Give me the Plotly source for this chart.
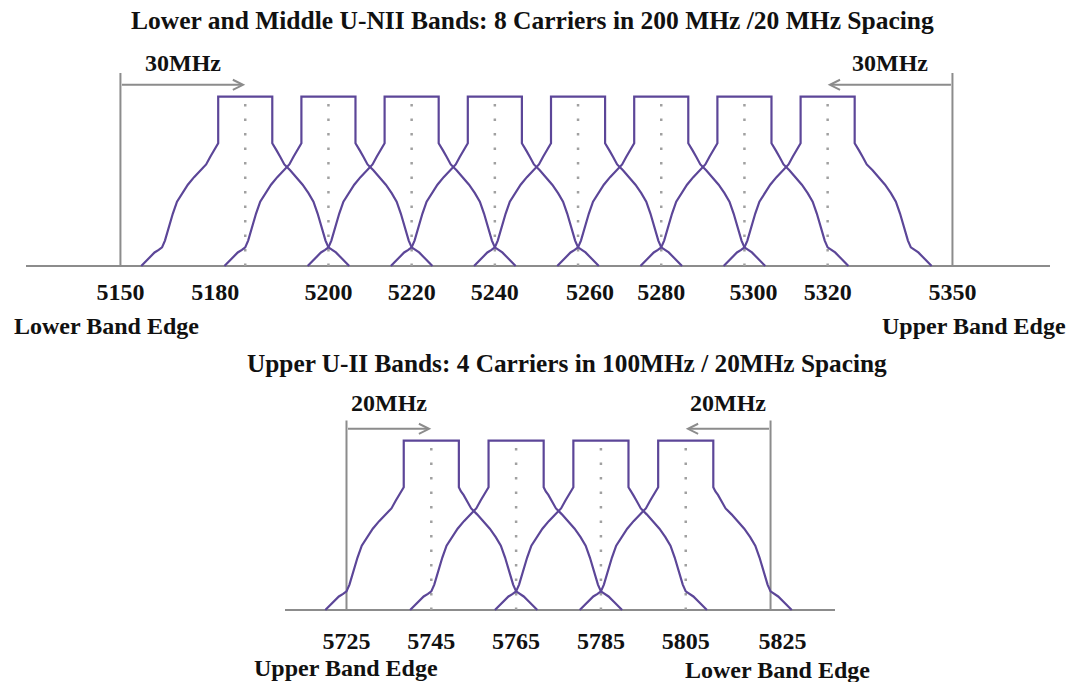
import plotly.graph_objects as go

# ---------------- data ----------------
TOP_TITLE = "Lower and Middle U-NII Bands: 8 Carriers in 200 MHz /20 MHz Spacing"
BOTTOM_TITLE = "Upper U-II Bands: 4 Carriers in 100MHz / 20MHz Spacing"

top_carriers = [5180, 5200, 5220, 5240, 5260, 5280, 5300, 5320]
top_ticks = [5150, 5180, 5200, 5220, 5240, 5260, 5280, 5300, 5320, 5350]
top_band_edges = [5150, 5350]
top_edge_labels = ["Lower Band Edge", "Upper Band Edge"]
top_guard_label = "30MHz"
top_baseline = [5127.3, 5373.45]

bottom_carriers = [5745, 5765, 5785, 5805]
bottom_ticks = [5725, 5745, 5765, 5785, 5805, 5825]
bottom_band_edges = [5725, 5825]
bottom_edge_labels = ["Upper Band Edge", "Lower Band Edge"]
bottom_guard_label = "20MHz"
bottom_baseline = [5710.5, 5840.2]

# spectral mask of one carrier: offset from centre (MHz) vs relative level
mask_offset = [0, 6.5, 6.5, 7.0, 7.6, 8.4, 9.4, 10.8, 12.3, 13.8, 15.2,
               16.4, 17.4, 18.4, 19.3, 20.0, 20.8, 21.8, 23.0, 24.0, 25.0]
mask_level = [1, 1, 0.725, 0.70, 0.68, 0.645, 0.60, 0.565, 0.525, 0.48, 0.43,
              0.38, 0.31, 0.23, 0.15, 0.11, 0.095, 0.08, 0.05, 0.025, 0]

centre_line_level = 0.975
top_edge_level = 1.14
bottom_edge_level = 1.12
arrow_level = 1.07
top_guard_text_level = 1.20
bottom_guard_text_level = 1.22

# ---------------- style ----------------
W, H = 1073, 682
PURPLE = "#5c4698"
GRAY = "#8c8c8c"
DOT = "#a0a0a0"
FONT = "Liberation Serif"
TXT = "#111111"
NB = "\u00a0"
# small horizontal nudges of some tick labels, as in the original drawing
# (positive = number of no-break spaces added on the left, negative = on the right)
label_nudge = {5180: -10, 5260: 4, 5300: 3, 5825: 4}


def tick_text(v):
    n = label_nudge.get(v, 0)
    s = f"<b>{v}</b>"
    return NB * n + s if n > 0 else s + NB * (-n)


def carrier_xy(centres):
    xs, ys = [], []
    for c in centres:
        xs += [c - o for o in mask_offset[::-1]] + [c + o for o in mask_offset[1:]] + [None]
        ys += mask_level[::-1] + mask_level[1:] + [None]
    return xs, ys


def vlines(xvals, top):
    xs, ys = [], []
    for v in xvals:
        xs += [v, v, None]
        ys += [0, top, None]
    return xs, ys


fig = go.Figure()

for (carriers, edges, edge_lvl, xa, ya) in [
    (top_carriers, top_band_edges, top_edge_level, "x", "y"),
    (bottom_carriers, bottom_band_edges, bottom_edge_level, "x2", "y2"),
]:
    dx, dy = vlines(carriers, centre_line_level)
    fig.add_trace(go.Scatter(x=dx, y=dy, mode="lines", xaxis=xa, yaxis=ya,
                             line=dict(color=DOT, width=2.5, dash="2.5px,12px"),
                             hoverinfo="skip", showlegend=False))
    ex, ey = vlines(edges, edge_lvl)
    fig.add_trace(go.Scatter(x=ex, y=ey, mode="lines", xaxis=xa, yaxis=ya,
                             line=dict(color=GRAY, width=2),
                             hoverinfo="skip", showlegend=False))
    cx, cy = carrier_xy(carriers)
    fig.add_trace(go.Scatter(x=cx, y=cy, mode="lines", xaxis=xa, yaxis=ya,
                             line=dict(color=PURPLE, width=2.2),
                             hoverinfo="skip", showlegend=False))

# pixel geometry -> paper domains
top_base_px, bot_base_px, unit_px = 266, 610, 169.3
top_yr = [-0.02, 1.4]
bot_yr = [-0.05, 1.4]


def ydomain(base_px, yr):
    bottom_px = base_px - yr[0] * unit_px
    top_px = base_px - yr[1] * unit_px
    return [1 - bottom_px / H, 1 - top_px / H]


axis_common = dict(showgrid=False, showline=False, ticks="", fixedrange=True)
tickfont = dict(family=FONT, size=24, color=TXT)

fig.update_layout(
    width=W, height=H,
    margin=dict(l=0, r=0, t=0, b=0),
    paper_bgcolor="white", plot_bgcolor="white",
    showlegend=False,
    xaxis=dict(domain=[26 / W, 1050 / W], range=top_baseline, anchor="y",
               tickvals=top_ticks, ticktext=[tick_text(t) for t in top_ticks],
               tickfont=tickfont, zeroline=False, ticklabelstandoff=6, **axis_common),
    yaxis=dict(domain=ydomain(top_base_px, top_yr), range=top_yr, anchor="x",
               showticklabels=False, zeroline=True, zerolinecolor=GRAY,
               zerolinewidth=2, **axis_common),
    xaxis2=dict(domain=[285 / W, 835 / W], range=bottom_baseline, anchor="y2",
                tickvals=bottom_ticks, ticktext=[tick_text(t) for t in bottom_ticks],
                tickfont=tickfont, zeroline=False, ticklabelstandoff=6, **axis_common),
    yaxis2=dict(domain=ydomain(bot_base_px, bot_yr), range=bot_yr, anchor="x2",
                showticklabels=False, zeroline=True, zerolinecolor=GRAY,
                zerolinewidth=2, **axis_common),
)

ann = []
# titles
ann.append(dict(xref="paper", yref="paper", x=532.5 / W, y=1 - 20.5 / H,
                text=f"<b>{TOP_TITLE}</b>", showarrow=False, xanchor="center",
                yanchor="middle", font=dict(family=FONT, size=25.5, color=TXT)))
ann.append(dict(xref="paper", yref="paper", x=566.7 / W, y=1 - 363 / H,
                text=f"<b>{BOTTOM_TITLE}</b>", showarrow=False, xanchor="center",
                yanchor="middle", font=dict(family=FONT, size=25.3, color=TXT)))
# band edge labels (top)
ann.append(dict(xref="paper", yref="paper", x=12 / W, y=1 - 326 / H,
                text=f"<b>{top_edge_labels[0]}</b>", showarrow=False, xanchor="left",
                yanchor="middle", font=dict(family=FONT, size=24, color=TXT)))
ann.append(dict(xref="paper", yref="paper", x=1068 / W, y=1 - 326 / H,
                text=f"<b>{top_edge_labels[1]}</b>", showarrow=False, xanchor="right",
                yanchor="middle", font=dict(family=FONT, size=24, color=TXT)))
# band edge labels (bottom)
ann.append(dict(xref="x2", yref="paper", x=bottom_band_edges[0], y=1 - 668 / H,
                text=f"<b>{bottom_edge_labels[0]}</b>", showarrow=False, xanchor="center",
                yanchor="middle", font=dict(family=FONT, size=24, color=TXT)))
ann.append(dict(xref="x2", yref="paper", x=bottom_band_edges[1], y=1 - 670 / H,
                text=f"<b>{bottom_edge_labels[1]}</b>", showarrow=False, xanchor="center",
                xshift=7, yanchor="middle", font=dict(family=FONT, size=24, color=TXT)))

# guard-band arrows + labels
for (edges, carriers, xa, ya, label, tlev) in [
    (top_band_edges, top_carriers, "x", "y", top_guard_label, top_guard_text_level),
    (bottom_band_edges, bottom_carriers, "x2", "y2", bottom_guard_label, bottom_guard_text_level),
]:
    for edge, target in [(edges[0], carriers[0]), (edges[1], carriers[-1])]:
        ann.append(dict(xref=xa, yref=ya, axref=xa, ayref=ya,
                        x=target, y=arrow_level, ax=edge, ay=arrow_level,
                        text="", showarrow=True, arrowhead=5, arrowsize=1,
                        arrowwidth=2, arrowcolor=GRAY, standoff=0, startstandoff=0))
        ann.append(dict(xref=xa, yref=ya, x=(edge + target) / 2, y=tlev,
                        text=f"<b>{label}</b>", showarrow=False, xanchor="center",
                        yanchor="middle", font=dict(family=FONT, size=24, color=TXT)))

fig.update_layout(annotations=ann)
fig.write_html("out.html", config={"displayModeBar": False},
               post_script="document.body.style.margin='0';")
